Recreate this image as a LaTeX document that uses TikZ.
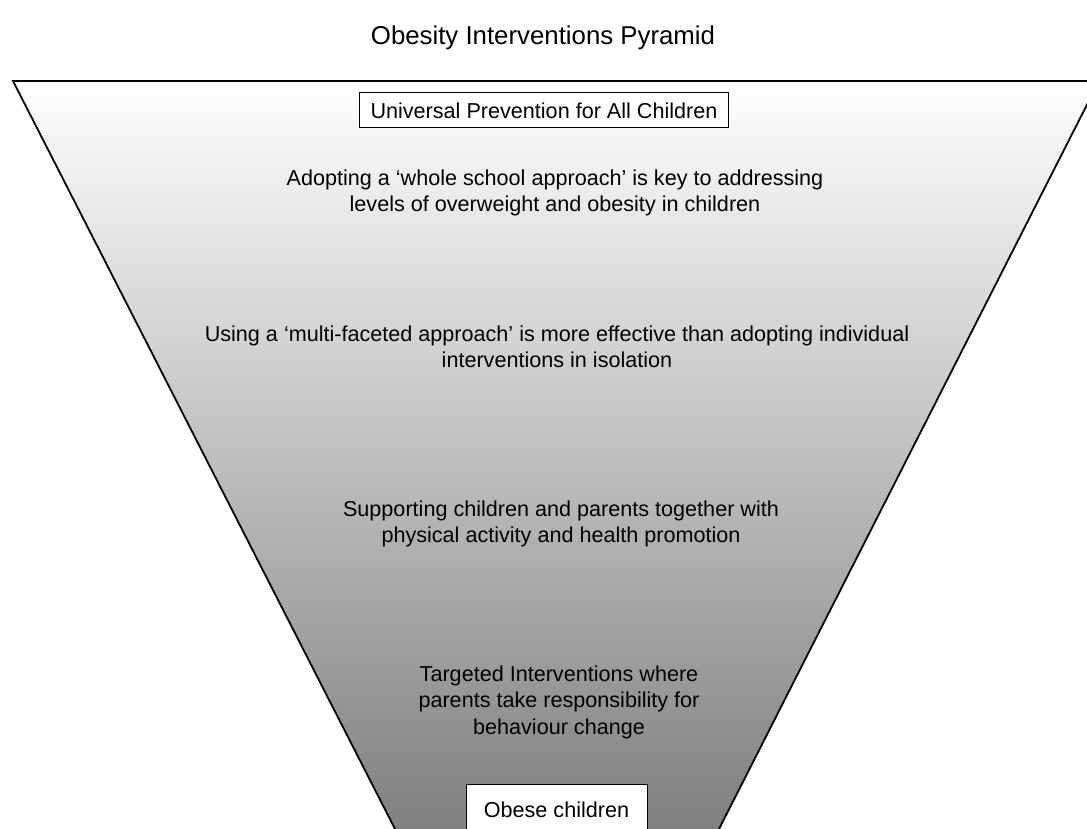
\documentclass[tikz,border=0pt]{standalone}
\usepackage{fontspec}
\setmainfont{Liberation Sans}
\usetikzlibrary{positioning}

\begin{document}
\begin{tikzpicture}[x=1pt, y=-1pt,
  txt/.style={align=center, font=\fontsize{21.6}{26.5}\selectfont},
  tag/.style={draw, fill=white, line width=1pt, inner xsep=11pt, minimum height=35pt, font=\fontsize{21.6}{26}\selectfont}
]
\useasboundingbox (0,0) rectangle (1087,829);
% funnel
\begin{scope}
\clip (0,0) rectangle (1087,829);
\shade[top color=white, bottom color=black!50] (13,81) -- (1099,81) -- (719,829) -- (395,829) -- cycle;
\draw[line width=1.8pt, line join=miter] (395,829) -- (13,81) -- (1099,81) -- (719,829);
\end{scope}

\node[font=\fontsize{25.8}{30}\selectfont] (title) at (543,38) {Obesity Interventions Pyramid};
\node[tag] (universal) at (544,110.5) {Universal Prevention for All Children};
\node[txt] (school) at (555,193) {Adopting a ‘whole school approach’ is key to addressing\\levels of overweight and obesity in children};
\node[txt] (multi) at (557,347) {Using a ‘multi-faceted approach’ is more effective than adopting individual\\interventions in isolation};
\node[txt] (support) at (561,524) {Supporting children and parents together with\\physical activity and health promotion};
\node[txt] (targeted) at (559,702) {Targeted Interventions where\\parents take responsibility for\\behaviour change};
\node[tag, minimum width=181pt, minimum height=50pt, anchor=north] (obese) at (556.5,784) {Obese children};
\end{tikzpicture}
\end{document}
